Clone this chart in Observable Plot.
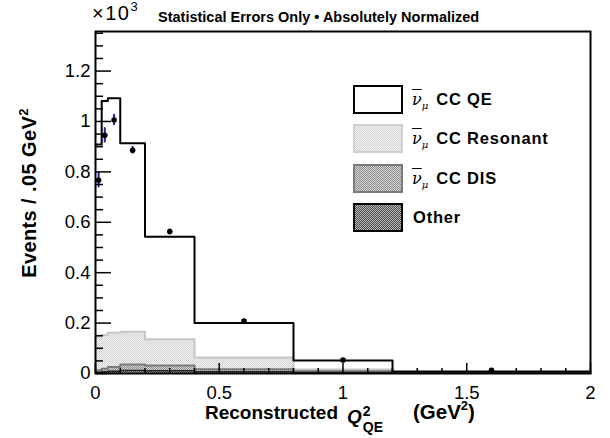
<!DOCTYPE html>
<html><head><meta charset="utf-8">
<script src="https://cdn.jsdelivr.net/npm/d3@7"></script>
<script src="https://cdn.jsdelivr.net/npm/@observablehq/plot@0.6"></script>
<style>
body{margin:0;background:#fff;font-family:"Liberation Sans",Arial,Helvetica,sans-serif;color:#000}
#wrap{position:relative;width:610px;height:438px;overflow:hidden;background:#fff}
.abs{position:absolute;white-space:nowrap;line-height:1}
.box{position:absolute;left:353px;width:50px;height:29px;box-sizing:border-box;border:2px solid #000}
.lt{position:absolute;left:412px;height:29px;line-height:29px;font-size:16.5px;font-weight:bold;letter-spacing:0.8px;white-space:nowrap}
.nu{font-family:"DejaVu Serif","Liberation Serif",serif;font-style:italic;font-weight:normal;font-size:16px;text-decoration:overline;text-decoration-thickness:1px;letter-spacing:0}
.mu{font-family:"DejaVu Serif","Liberation Serif",serif;font-style:italic;font-weight:normal;font-size:10px;vertical-align:-4px;margin-right:8px;letter-spacing:0}
.xt{position:absolute;white-space:nowrap;line-height:1;font-weight:bold}
</style></head><body><div id="wrap"></div>
<script>
// Histogram bin edges in Q^2_QE (GeV^2)
const binEdges = [0, 0.025, 0.05, 0.1, 0.2, 0.4, 0.8, 1.2, 2.0];
// Component contributions (x10^3 events / .05 GeV^2), stacked bottom-up: Other, DIS, Resonant, QE
const qeVals       = [0.763, 0.928, 0.930, 0.748, 0.407, 0.137, 0.036, 0.004];
const resonantVals = [0.133, 0.134, 0.136, 0.130, 0.104, 0.046, 0.007, 0.001];
const disVals      = [0.008, 0.012, 0.017, 0.024, 0.021, 0.010, 0.005, 0.002];
const otherVals    = [0.005, 0.007, 0.009, 0.012, 0.011, 0.007, 0.004, 0.001];
// Data points
const dataX   = [0.0125, 0.0375, 0.075, 0.15, 0.3, 0.6, 1.0, 1.6];
const dataY   = [0.767, 0.945, 1.006, 0.886, 0.563, 0.208, 0.0535, 0.013];
const dataErr = [0.030, 0.030, 0.022, 0.015, 0.010, 0.005, 0.003, 0.001];
// Axis ticks
const xTicks = [0, 0.5, 1, 1.5, 2];
const xMinorTicks = [0.1,0.2,0.3,0.4,0.6,0.7,0.8,0.9,1.1,1.2,1.3,1.4,1.6,1.7,1.8,1.9];
const yTicks = [0, 0.2, 0.4, 0.6, 0.8, 1, 1.2];
const yMinorTicks = [0.05,0.1,0.15,0.25,0.3,0.35,0.45,0.5,0.55,0.65,0.7,0.75,0.85,0.9,0.95,1.05,1.1,1.15,1.25,1.3,1.35];

// cumulative stack levels
const nb = qeVals.length;
const bins = d3.range(nb).map(i => {
  const other = otherVals[i];
  const dis = other + disVals[i];
  const res = dis + resonantVals[i];
  const total = res + qeVals[i];
  return {x1: binEdges[i], x2: binEdges[i+1], other, dis, res, total};
});
const stepPts = key => [...bins.map(b => ({x: b.x1, y: b[key]})), {x: bins[nb-1].x2, y: bins[nb-1][key]}];
const points = dataX.map((x, i) => ({x, y: dataY[i], e: dataErr[i]}));

const font = "Liberation Sans, Arial, Helvetica, sans-serif";
const plot = Plot.plot({
  width: 610, height: 438,
  marginLeft: 95, marginRight: 20, marginTop: 31, marginBottom: 65,
  x: {domain: [0, 2]},
  y: {domain: [0, 1.357]},
  style: {fontFamily: font, fontSize: "18px", color: "black", background: "white", overflow: "visible"},
  marks: [
    Plot.rectY(bins, {x1: "x1", x2: "x2", y1: 0, y2: "total", fill: "white", shapeRendering: "crispEdges"}),
    Plot.rectY(bins, {x1: "x1", x2: "x2", y1: 0, y2: "res", fill: "url(#pL)", shapeRendering: "crispEdges"}),
    Plot.rectY(bins, {x1: "x1", x2: "x2", y1: 0, y2: "dis", fill: "url(#pM)", shapeRendering: "crispEdges"}),
    Plot.rectY(bins, {x1: "x1", x2: "x2", y1: 0, y2: "other", fill: "url(#pD)", shapeRendering: "crispEdges"}),
    Plot.line(stepPts("res"), {x: "x", y: "y", curve: "step-after", stroke: "#c6c6c6", strokeWidth: 2}),
    Plot.line(stepPts("dis"), {x: "x", y: "y", curve: "step-after", stroke: "#7a7a7a", strokeWidth: 2}),
    Plot.line(stepPts("other"), {x: "x", y: "y", curve: "step-after", stroke: "#222", strokeWidth: 1.5}),
    Plot.line(stepPts("total"), {x: "x", y: "y", curve: "step-after", stroke: "black", strokeWidth: 2}),
    Plot.ruleX(points, {x: "x", y1: d => d.y - d.e, y2: d => d.y + d.e, stroke: "#1c1cb0", strokeWidth: 2}),
    Plot.dot(points, {x: "x", y: "y", r: 2.8, fill: "black", stroke: "none"}),
    // axes: labels
    Plot.axisX({ticks: xTicks, tickSize: 0, tickPadding: 12, tickFormat: d => String(d), label: null, fontSize: 18.5}),
    Plot.axisY({ticks: yTicks, tickSize: 0, tickPadding: 5, tickFormat: d => String(d), label: null, fontSize: 18.5}),
    // axes: inward ticks
    Plot.axisX({ticks: xTicks, tickSize: -10, tickFormat: () => "", label: null, strokeWidth: 1.5}),
    Plot.axisX({ticks: xMinorTicks, tickSize: -5, tickFormat: () => "", label: null, strokeWidth: 1.5}),
    Plot.axisY({ticks: yTicks, tickSize: -16, tickFormat: () => "", label: null, strokeWidth: 1.5}),
    Plot.axisY({ticks: yMinorTicks, tickSize: -8, tickFormat: () => "", label: null, strokeWidth: 1.5}),
    Plot.frame({stroke: "black", strokeWidth: 2})
  ]
});

// fill patterns (ROOT-like stipple)
const svg = d3.select(plot);
const defs = svg.insert("defs", ":first-child");
function pat(id, bg, fg) {
  const p = defs.append("pattern").attr("id", id).attr("width", 2).attr("height", 2).attr("patternUnits", "userSpaceOnUse");
  p.append("rect").attr("width", 2).attr("height", 2).attr("fill", bg);
  p.append("rect").attr("width", 1).attr("height", 1).attr("fill", fg);
  p.append("rect").attr("x", 1).attr("y", 1).attr("width", 1).attr("height", 1).attr("fill", fg);
}
pat("pL", "#f3f3f3", "#d2d2d2");
pat("pM", "#d6d6d6", "#8c8c8c");
pat("pD", "#bcbcbc", "#4a4a4a");

const wrap = document.getElementById("wrap");
wrap.appendChild(plot);

const overlay = document.createElement("div");
overlay.innerHTML = `
<div class="abs" style="left:92px;top:2px;font-size:20px;letter-spacing:1.5px;line-height:normal;">×10<sup style="font-size:13px;vertical-align:9px;line-height:0;letter-spacing:0">3</sup></div>
<div class="abs" style="left:158px;top:10px;font-size:14.5px;font-weight:bold;">Statistical Errors Only • Absolutely Normalized</div>
<div class="abs" style="left:29px;top:193px;font-size:20px;font-weight:bold;letter-spacing:0.4px;line-height:normal;transform:translate(-50%,-50%) rotate(-90deg);">Events / .05 GeV<sup style="font-size:13px;vertical-align:8px;line-height:0">2</sup></div>
<div class="xt" style="left:205px;top:403px;font-size:19px;">Reconstructed</div>
<div class="xt" style="left:347px;top:403px;font-size:19px;"><i>Q</i><span style="display:inline-block;vertical-align:-9px;line-height:16px;font-size:14px;margin-left:1px;">2<br>QE</span></div>
<div class="xt" style="left:413px;top:402px;font-size:20.5px;">(GeV<sup style="font-size:13px;vertical-align:9px;line-height:0">2</sup>)</div>
<div class="box" style="top:85px;background:#fff;"></div>
<div class="lt" style="top:85px;"><span class="nu">ν</span><span class="mu">μ</span>CC QE</div>
<div class="box" style="top:124px;border-color:#cfcfcf;background:repeating-conic-gradient(#d2d2d2 0 25%, #f3f3f3 0 50%) 0 0/2px 2px;"></div>
<div class="lt" style="top:124px;"><span class="nu">ν</span><span class="mu">μ</span>CC Resonant</div>
<div class="box" style="top:164px;border-color:#7a7a7a;background:repeating-conic-gradient(#8c8c8c 0 25%, #d6d6d6 0 50%) 0 0/2px 2px;"></div>
<div class="lt" style="top:164px;"><span class="nu">ν</span><span class="mu">μ</span>CC DIS</div>
<div class="box" style="top:203px;border-color:#000;background:repeating-conic-gradient(#4a4a4a 0 25%, #bcbcbc 0 50%) 0 0/2px 2px;"></div>
<div class="lt" style="top:203px;left:413px;">Other</div>
`;
while (overlay.firstElementChild) wrap.appendChild(overlay.firstElementChild);
</script>
</body></html>
